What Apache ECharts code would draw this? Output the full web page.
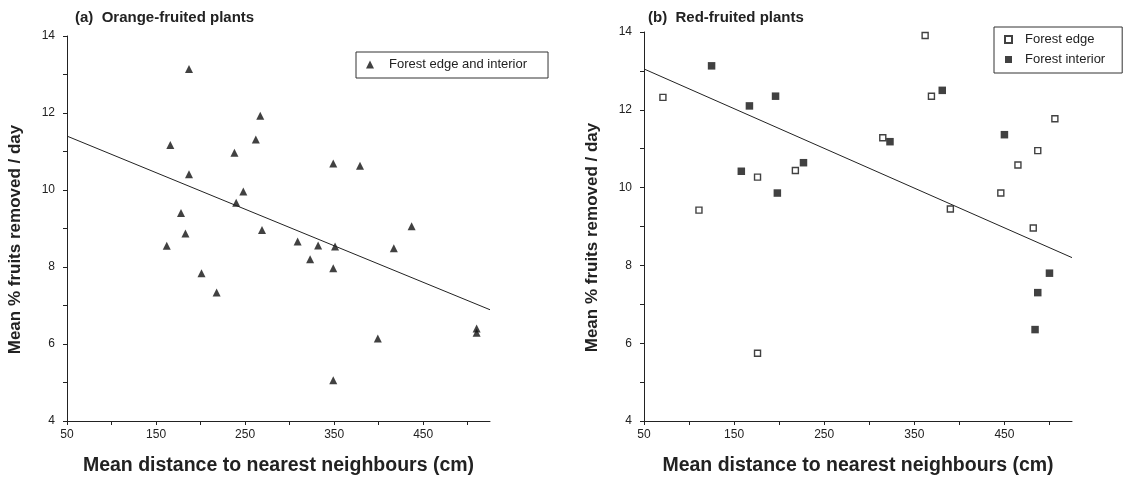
<!DOCTYPE html>
<html>
<head>
<meta charset="utf-8">
<title>Fruit removal vs neighbour distance</title>
<script src="https://cdn.jsdelivr.net/npm/echarts@6/dist/echarts.min.js"></script>
<style>
    html, body { margin: 0; padding: 0; background: #fff; }
    #chart { width: 1124px; height: 479px; }
</style>
</head>
<body>
<div id="chart"></div>
<script>
    // (a) orange-fruited plants, forest edge and interior pooled
    var orangeX = [187, 267, 166, 262, 238, 349, 379, 187, 248, 240, 178, 437, 269, 183,
                   162, 309, 332, 351, 417, 323, 349, 201, 218, 399, 510, 510, 349];
    var orangeY = [13.14, 11.93, 11.17, 11.31, 10.97, 10.69, 10.63, 10.41, 9.96, 9.67, 9.40, 9.06, 8.96, 8.87,
                   8.55, 8.66, 8.56, 8.53, 8.49, 8.20, 7.97, 7.84, 7.34, 6.14, 6.40, 6.29, 5.06];
    var orangeFitX = [50, 525];
    var orangeFitY = [11.40, 6.89];

    // (b) red-fruited plants
    var edgeX = [71, 111, 176, 218, 315, 362, 369, 390, 446, 465, 487, 506, 482, 176];
    var edgeY = [12.32, 9.42, 10.27, 10.44, 11.28, 13.91, 12.35, 9.45, 9.86, 10.58, 10.95, 11.77, 8.96, 5.74];
    var interiorX = [125, 167, 196, 158, 227, 198, 323, 381, 450, 500, 487, 484];
    var interiorY = [13.13, 12.10, 12.35, 10.42, 10.64, 9.86, 11.18, 12.50, 11.36, 7.80, 7.30, 6.35];
    var redFitX = [50, 525];
    var redFitY = [13.05, 8.20];

    var xTicks = [50, 100, 150, 200, 250, 300, 350, 400, 450, 500];
    var xLabels = [50, 150, 250, 350, 450];
    var yTicks = [4, 5, 6, 7, 8, 9, 10, 11, 12, 13, 14];
    var yLabels = [4, 6, 8, 10, 12, 14];

    var FONT = '"Liberation Sans", Arial, sans-serif';
    var INK = '#222';

    function pairs(xs, ys) {
        var out = [];
        for (var i = 0; i < xs.length; i++) out.push([xs[i], ys[i]]);
        return out;
    }

    function xAxisFor(idx) {
        return {
            gridIndex: idx, type: 'value', min: 50, max: 525,
            name: 'Mean distance to nearest neighbours (cm)',
            nameLocation: 'middle', nameGap: 35,
            nameTextStyle: { fontFamily: FONT, fontWeight: 'bold', fontSize: 19.5, color: INK },
            splitLine: { show: false },
            axisLine: { lineStyle: { color: INK, width: 1 } },
            axisTick: { customValues: xTicks, length: 4, lineStyle: { color: INK } },
            axisLabel: { customValues: xLabels, margin: 8, fontFamily: FONT, fontSize: 12, color: INK }
        };
    }

    function yAxisFor(idx) {
        return {
            gridIndex: idx, type: 'value', min: 4, max: 14,
            name: 'Mean % fruits removed / day',
            nameLocation: 'middle', nameGap: 43, nameRotate: 90,
            nameTextStyle: { fontFamily: FONT, fontWeight: 'bold', fontSize: 17, color: INK, padding: [0, 22, 0, 0] },
            splitLine: { show: false },
            axisLine: { show: true, lineStyle: { color: INK, width: 1 } },
            axisTick: { customValues: yTicks, length: 4, lineStyle: { color: INK } },
            axisLabel: { customValues: yLabels, margin: 12, fontFamily: FONT, fontSize: 12, color: INK }
        };
    }

    var chart = echarts.init(document.getElementById('chart'));

    var option = {
        backgroundColor: '#fff',
        animation: false,
        title: [
            { text: '(a)  Orange-fruited plants', left: 70, top: 5,
              textStyle: { fontFamily: FONT, fontWeight: 'bold', fontSize: 15, color: INK } },
            { text: '(b)  Red-fruited plants', left: 643, top: 5,
              textStyle: { fontFamily: FONT, fontWeight: 'bold', fontSize: 15, color: INK } }
        ],
        legend: [
            {
                data: ['Forest edge and interior'],
                left: 356, top: 52, orient: 'vertical',
                padding: [6, 21, 7, 10],
                borderColor: '#333', borderWidth: 1,
                itemWidth: 8, itemHeight: 8,
                textStyle: { fontFamily: FONT, fontSize: 13, color: INK, padding: [0, 0, 0, 10] }
            },
            {
                data: ['Forest edge', 'Forest interior'],
                left: 994, top: 27, orient: 'vertical',
                padding: [6, 17, 7, 10], itemGap: 7,
                borderColor: '#333', borderWidth: 1,
                itemWidth: 7, itemHeight: 7,
                textStyle: { fontFamily: FONT, fontSize: 13, color: INK, padding: [0, 0, 0, 8] }
            }
        ],
        grid: [
            { left: 67, top: 36, width: 423, height: 385, outerBoundsMode: 'none' },
            { left: 644, top: 32, width: 428, height: 389, outerBoundsMode: 'none' }
        ],
        xAxis: [xAxisFor(0), xAxisFor(1)],
        yAxis: [yAxisFor(0), yAxisFor(1)],
        series: [
            {
                name: 'Forest edge and interior', type: 'scatter',
                xAxisIndex: 0, yAxisIndex: 0,
                symbol: 'triangle', symbolSize: [8, 8],
                itemStyle: { color: '#111' },
                data: pairs(orangeX, orangeY)
            },
            {
                name: 'fitA', type: 'line', xAxisIndex: 0, yAxisIndex: 0,
                showSymbol: false, silent: true,
                lineStyle: { color: INK, width: 1 },
                data: pairs(orangeFitX, orangeFitY)
            },
            {
                name: 'Forest edge', type: 'scatter',
                xAxisIndex: 1, yAxisIndex: 1,
                symbol: 'rect', symbolSize: 6,
                itemStyle: { color: '#fff', borderColor: '#111', borderWidth: 1.4 },
                data: pairs(edgeX, edgeY)
            },
            {
                name: 'Forest interior', type: 'scatter',
                xAxisIndex: 1, yAxisIndex: 1,
                symbol: 'rect', symbolSize: 7.5,
                itemStyle: { color: '#111' },
                data: pairs(interiorX, interiorY)
            },
            {
                name: 'fitB', type: 'line', xAxisIndex: 1, yAxisIndex: 1,
                showSymbol: false, silent: true,
                lineStyle: { color: INK, width: 1 },
                data: pairs(redFitX, redFitY)
            }
        ]
    };

    chart.setOption(option);
</script>
</body>
</html>
